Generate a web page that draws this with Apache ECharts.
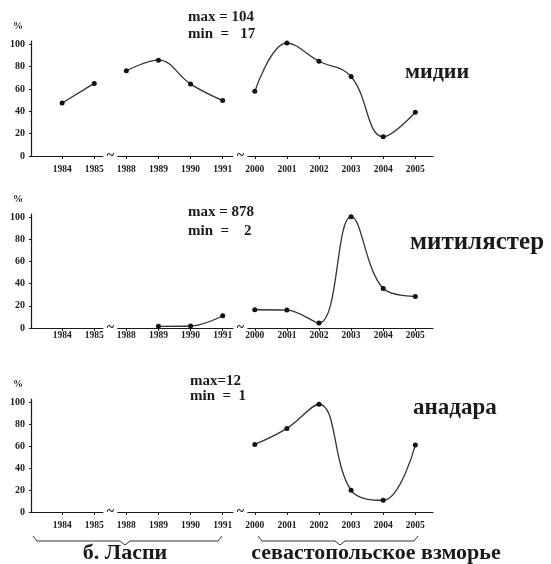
<!DOCTYPE html>
<html><head><meta charset="utf-8">
<script src="https://cdn.jsdelivr.net/npm/echarts@6/dist/echarts.min.js"></script>
<style>html,body{margin:0;padding:0;background:#fff}#c{width:551px;height:564px}</style>
</head><body><div id="c"></div>
<script>
// ---- data ----
const years = ['1984','1985','1988','1989','1990','1991','2000','2001','2002','2003','2004','2005'];
const yTicks = [0, 20, 40, 60, 80, 100];
const midiiValues = [47.5, 65, 76.3, 85.8, 64.4, 49.6, 57.9, 101.2, 84.9, 71.2, 17.2, 39.2];
const mitilasterValues = [null, null, null, 1.5, 1.8, 11.1, 16.5, 16.2, 4.5, 100.6, 35.7, 28.5];
const anadaraValues = [null, null, null, null, null, null, 61.6, 76.2, 98.2, 19.8, 10.7, 61];
const segments = [[0, 1], [2, 5], [6, 11]];
const panelTitles = ['мидии', 'митилястер', 'анадара'];
const maxLabels = ['max = 104', 'max = 878', 'max=12'];
const minLabels = ['min  =   17', 'min  =    2', 'min  =  1'];
const regionLabels = ['б. Ласпи', 'севастопольское взморье'];
const breakAt = [1.5, 5.55];

// ---- layout / style ----
const panels = [midiiValues, mitilasterValues, anadaraValues];
const FONT = '"Liberation Serif", "DejaVu Serif", serif';
const INK = '#1a1a1a';
const grids = [
  {left: 31, top: 41, width: 402, height: 115},
  {left: 31, top: 214, width: 402, height: 114},
  {left: 31, top: 399, width: 402, height: 113}
];
const labelMargins = [9, 3, 9];
const idx = years.map((_, i) => i);

const xAxes = grids.map((g, p) => ({
  type: 'value', gridIndex: p, min: -0.97, max: 11.55,
  axisLine: {onZero: false, lineStyle: {color: INK, width: 1.2}},
  axisTick: {customValues: idx, length: 3, lineStyle: {color: INK}},
  axisLabel: {customValues: idx, formatter: v => years[v] || '', fontSize: 9.5, fontFamily: FONT,
    fontWeight: 'bold', color: INK, margin: labelMargins[p]},
  splitLine: {show: false}
}));
const yAxes = grids.map((g, p) => ({
  type: 'value', gridIndex: p, min: 0, max: 103,
  name: '%', nameLocation: 'end', nameGap: 10,
  nameTextStyle: {fontSize: 10, fontFamily: FONT, color: INK, fontWeight: 'bold', align: 'right', padding: [0, 8, 0, 0]},
  axisLine: {show: true, onZero: false, lineStyle: {color: INK, width: 1.2}},
  axisTick: {show: true, customValues: yTicks, length: 2, lineStyle: {color: INK}},
  axisLabel: {customValues: yTicks, fontSize: 10, fontFamily: FONT, fontWeight: 'bold', color: INK, margin: 6},
  splitLine: {show: false}
}));

const series = [];
panels.forEach((vals, p) => {
  segments.forEach(([a, b]) => {
    const data = [];
    for (let i = a; i <= b; i++) if (vals[i] != null) data.push([i, vals[i]]);
    if (!data.length) return;
    series.push({
      type: 'line', xAxisIndex: p, yAxisIndex: p, data, smooth: 0.4,
      symbol: 'circle', symbolSize: 5, clip: false, animation: false,
      itemStyle: {color: '#111'}, lineStyle: {color: '#333', width: 1.3}
    });
  });
});

const chart = echarts.init(document.getElementById('c'), null, {renderer: 'canvas'});
chart.setOption({
  backgroundColor: '#fff', animation: false,
  grid: grids, xAxis: xAxes, yAxis: yAxes, series
});

// ---- annotations ----
const g = [];
const txt = (text, x, y, size, weight, align) => ({
  type: 'text', x, y, z: 10,
  style: {text, font: `${weight} ${size}px ${FONT}`, fill: INK, textAlign: align || 'left', textVerticalAlign: 'middle'}
});
const maxPos = [[188, 17, 34], [188, 212, 231], [190, 381, 396]];
maxPos.forEach(([x, y1, y2], p) => {
  g.push(txt(maxLabels[p], x, y1, 15, 'bold'));
  g.push(txt(minLabels[p], x, y2, 15, 'bold'));
});
const titlePos = [[405, 72, 22], [410, 243, 25], [413, 408, 23]];
titlePos.forEach(([x, y, s], p) => g.push(txt(panelTitles[p], x, y, s, 'bold')));

// axis breaks
grids.forEach((gr, p) => {
  breakAt.forEach(b => {
    const [px, py] = chart.convertToPixel({gridIndex: p}, [b, 0]);
    g.push({type: 'rect', z: 20, shape: {x: px - 7, y: py - 3, width: 14, height: 6}, style: {fill: '#fff'}});
    g.push({type: 'text', z: 21, x: px, y: py, style: {text: '~', font: `bold 14px ${FONT}`, fill: INK, textAlign: 'center', textVerticalAlign: 'middle'}});
  });
});

// braces
const brace = (x0, x1, tip) => ({
  type: 'polyline', z: 10,
  shape: {points: [[x0, 536], [x0 + 4, 541], [tip - 5, 541], [tip, 545], [tip + 5, 541], [x1 - 4, 541], [x1, 536]]},
  style: {stroke: '#333', lineWidth: 1, fill: null}
});
g.push(brace(33, 222, 125));
g.push(brace(258, 418, 340));
g.push(txt(regionLabels[0], 125, 553, 22, 'bold', 'center'));
g.push(txt(regionLabels[1], 376, 553, 22, 'bold', 'center'));

chart.setOption({graphic: g});
</script>
</body></html>
